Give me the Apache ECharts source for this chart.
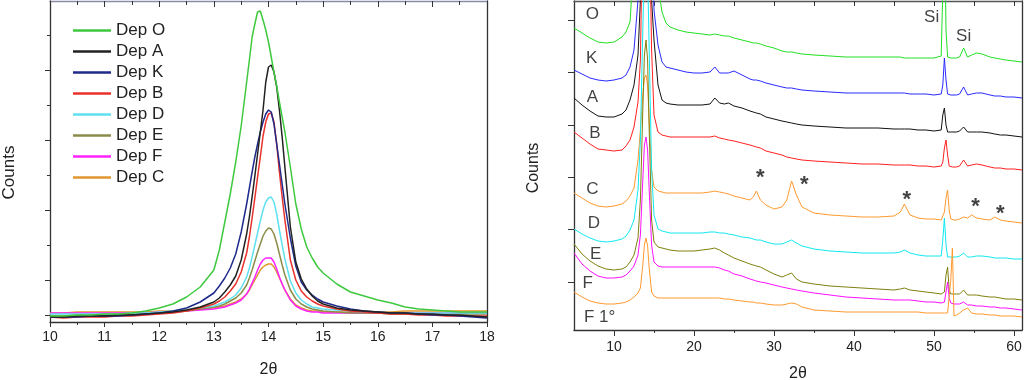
<!DOCTYPE html>
<html><head><meta charset="utf-8">
<script src="https://cdn.jsdelivr.net/npm/echarts@6/dist/echarts.min.js"></script>
<style>html,body{margin:0;padding:0;background:#fff}#c{width:1024px;height:380px}</style>
</head><body><div id="c"></div>
<script>
// ---------- LEFT PANEL DATA (2θ vs counts, zoom on 14° peak) ----------
const leftX = [10,10.25,10.5,10.75,11,11.25,11.5,11.75,12,12.25,12.5,12.75,13,13.1,13.2,13.3,13.4,13.5,13.6,13.65,13.7,13.75,13.8,13.85,13.9,13.95,14,14.05,14.1,14.15,14.2,14.25,14.3,14.4,14.5,14.6,14.7,14.8,14.9,15,15.25,15.5,15.75,16,16.25,16.5,16.75,17,17.25,17.5,17.75,18];
const depO = [6,6,7,7,8,8,9,11,14,18,25,35, 52,72,100,128,160,196,240, 262,285,298,310,311,302,292,280,265,250,236,220,205,190, 155,118,93,75,64,55,49, 38,30,26,22,19,15,13,12,11,10,10,10];
const depA = [5,5,6,6,6,7,7,8,9,10,12,15, 20,24,30,37,46,62,88, 105,125,146,168,190,212,240,255,257,250,235,212,185,155, 95,60,43,33,26,21,18, 14,12,11,10,9,9,8,8,7,7,6,5];
const depK = [5,5,5,6,6,6,7,8,9,11,14,20, 29,36,44,54,68,90,118, 134,150,165,178,190,200,208,212,210,198,178,158,138,118, 84,56,40,32,27,23,20, 16,13,11,10,9,9,8,7,7,6,5,4];
const depB = [5,4,5,5,5,6,6,7,8,9,11,14, 18,21,25,31,38,50,69, 85,104,124,145,165,186,200,208,209,200,178,150,125,102, 62,42,31,25,21,18,16, 13,11,10,9,8,8,7,7,6,6,6,6];
const depD = [8,8,8,8,8,8,9,9,10,11,12,14, 16,18,20,23,27,34,45, 54,65,77,89,101,112,120,124,125,120,108,92,77,63, 41,29,22,18,15,14,13, 12,11,10,10,9,9,9,9,9,9,9,9];
const depE = [6,6,7,7,7,7,8,8,9,10,11,13, 15,16,18,21,24,29,37, 44,52,61,70,78,86,91,94,93,88,79,68,57,47, 32,23,18,15,13,12,11, 10,9,9,9,8,8,8,8,8,8,8,8];
const depF = [9,9,9,9,9,9,9,9,10,10,11,12, 13,14,15,17,19,22,28, 33,39,45,52,58,62,64,64,64,60,53,45,38,32, 22,16,13,11,10,10,9, 9,9,9,9,9,9,9,9,9,9,9,9];
const depC = [9,9,10,10,10,10,10,10,11,11,12,13, 14,15,16,18,20,23,28, 32,37,42,47,52,55,57,58,58,55,50,44,38,32, 23,17,14,12,11,11,10, 10,10,10,10,10,11,11,11,11,11,11,11];
const leftNames = ['Dep O','Dep A','Dep K','Dep B','Dep D','Dep E','Dep F','Dep C'];
const leftYMajor = [7,42,112,182,252];
const leftYMinor = [77,147,217,287];

// ---------- RIGHT PANEL DATA (stacked patterns, offset counts) ----------
const rx = [5,6,7,8,9,10,11,11.5, 12,12.5,13,13.3,13.6,13.8,14,14.2,14.4,14.7, 15,15.5,16,16.5,17,18,19,20, 21,22,22.6,23.2,23.8,24.3,25,26, 27,27.4,27.8,28.3,29,30,31, 31.6,32.2,32.8,33.5,35,37, 39,41,43,45,45.8,46.3,47,48,49, 50,50.9,51.1,51.3,51.5,51.7,51.9,52.1, 52.3,52.5,52.8,53.2,53.7,54.2,54.7,55.3, 56,57,57.6,58.3,59,60,61];
const rO = [302,297,292,288,287,288,293,298, 308,370,430,530,700,900,1000,900,700,520, 420,345,318,307,303,300,298,297, 296,295,296,295,294,294,292,290, 288,287,287,286,284,282,279, 278,278,277,276,275,274, 273,273,273,273,273,272,272,272,272, 272,274,340,420,300,273,272,272, 272,272,272,273,282,273,275,277, 276,273,272,271,270,269,268];
const rK = [260,256,252,250,249,250,252,255, 263,280,330,400,600,800,900,800,600,400, 320,285,268,263,262,260,258,257, 257,258,263,257,257,257,259,255, 251,250,250,249,247,245,243, 242,242,241,240,239,238, 237,237,237,237,237,237,236,236,236, 235,236,245,272,250,236,235,235, 235,235,235,236,243,235,236,237, 237,235,234,234,233,233,232];
const rA = [232,225,219,214,213,213,216,220, 230,245,275,330,500,700,800,700,500,330, 290,245,230,227,226,225,225,225, 225,226,232,227,226,227,224,222, 219,218,217,216,213,211,209, 208,207,206,205,204,203, 202,202,202,201,201,201,201,200,200, 199,200,215,222,205,198,198,198, 198,198,198,199,203,198,198,198, 198,197,196,195,195,194,193];
const rB = [198,192,186,181,180,179,180,184, 190,203,228,270,420,600,700,600,420,280, 215,198,195,194,193,193,193,193, 193,193,194,192,191,190,189,187, 185,184,183,182,179,177,175, 173,172,171,170,169,168, 167,166,166,165,165,165,165,164,164, 163,164,168,182,190,175,164,163, 163,163,163,164,170,164,165,166, 165,163,162,162,161,161,160];
const rC = [137,132,127,124,123,124,126,129, 134,142,170,200,235,252,255,245,210,160, 143,139,138,137,137,137,137,137, 137,138,139,138,137,136,134,132, 130,133,139,130,125,121,123, 130,149,135,123,117,115, 114,113,113,114,118,126,115,112,111, 111,110,112,118,132,140,120,111, 110,110,110,111,113,112,115,112, 111,110,113,110,109,108,107];
const rD = [101,96,92,89,88,89,91,94, 100,110,140,190,300,370,390,360,280,160, 115,101,99,98,97,97,97,97, 97,98,98,97,97,96,95,93, 92,91,90,90,88,86,86, 88,90,87,84,81,79, 78,77,77,77,78,80,77,75,74, 74,74,90,112,85,73,73,73, 73,73,73,74,77,73,73,74, 74,73,72,72,72,71,71];
const rE = [86,76,69,64,61,60,61,63, 68,75,92,130,220,275,290,270,200,110, 88,83,82,81,80,79,79,79, 80,81,82,80,77,75,72,69, 66,65,64,63,60,56,53, 55,57,51,48,46,44, 43,42,41,40,41,42,40,39,38, 37,36,36,38,55,63,40,36, 36,36,36,36,40,35,35,35, 34,33,33,32,31,31,30];
const rF = [77,66,59,54,52,52,53,55, 59,64,75,95,150,185,193,180,140,85, 68,64,63,63,63,63,63,63, 63,63,63,62,60,59,56,54, 51,50,49,48,47,45,43, 42,41,40,39,37,35, 33,32,31,30,30,30,30,29,28, 28,27,27,28,38,48,32,27, 27,26,26,26,28,25,25,24, 24,23,23,22,22,21,20];
const rF1 = [38,33,29,27,26,26,27,28, 30,33,37,42,65,85,92,84,62,38, 34,32,32,32,32,32,32,32, 32,32,32,32,31,31,30,29, 28,28,27,27,26,25,25, 26,27,26,23,20,19, 18,18,18,18,18,18,18,18,17, 17,17,17,17,17,17,18,50, 82,14,15,17,20,22,17,16, 16,15,15,14,14,14,13];
const rightNames = ['O','K','A','B','C','D','E','F','F 1°'];
const rightXMajor = [10,20,30,40,50,60];
const rightXMinor = [15,25,35,45,55];
const rightXAll = [10,15,20,25,30,35,40,45,50,55,60];
const rightYTicks = [48,100.4,152.8,205.2,257.6,310];
// annotations (text, 2θ, offset counts)
const annoText = ['O','K','A','B','C','D','E','F','F 1°','Si','Si','*','*','*','*','*'];
const annoX = [7.3,7.2,7.3,7.6,7.3,7.5,7.7,6.7,8.2,49.7,53.7,28.3,33.8,46.6,55.2,58.3];
const annoY = [316,272,233,197,141,107,76,47,13,313,294,152,145,130,123,116];

// ---------- BUILD ----------
const FONT = '"Liberation Sans", Arial, sans-serif';
const AX = '#333';
const pairs = (xs, ys) => xs.map((x, i) => [x, ys[i]]);
const leftData = [depO, depA, depK, depB, depD, depE, depF, depC];
const leftColors = ['#3fc93f','#222222','#1f2a8a','#e8312a','#5fe0ee','#8c8c4a','#ff22ff','#e0962e'];
const rightData = [rO, rK, rA, rB, rC, rD, rE, rF, rF1];
const rightColors = ['#22e022','#2a2aff','#111111','#ff2020','#ff9a30','#10e8f0','#808010','#ff10ff','#ff9a30'];

const series = [];
for (let i = leftData.length - 1; i >= 0; i--) {
  series.push({
    name: leftNames[i], type: 'line', xAxisIndex: 0, yAxisIndex: 0,
    data: pairs(leftX, leftData[i]), symbol: 'none', showSymbol: false,
    lineStyle: { color: leftColors[i], width: 1.5 }, itemStyle: { color: leftColors[i] },
    z: 10 + (leftData.length - i)
  });
}
rightData.forEach((d, i) => {
  series.push({
    name: rightNames[i], type: 'line', xAxisIndex: 2, yAxisIndex: 3,
    data: pairs(rx, d), symbol: 'none', showSymbol: false,
    lineStyle: { color: rightColors[i], width: 1 }, itemStyle: { color: rightColors[i] }
  });
});
series.push({
  name: 'annotations', type: 'scatter', xAxisIndex: 2, yAxisIndex: 3, symbolSize: 2,
  itemStyle: { color: 'rgba(0,0,0,0)' }, silent: true, z: 20,
  label: { show: true, position: 'inside', fontFamily: FONT },
  data: annoText.map((t, i) => ({
    value: [annoX[i], annoY[i]], name: t,
    label: t === '*'
      ? { show: true, position: 'inside', formatter: t, fontSize: 22, fontWeight: 'bold', color: '#111', fontFamily: FONT }
      : { show: true, position: 'inside', formatter: t, fontSize: 17, color: '#111', fontFamily: FONT }
  }))
});

const tickStyle = { color: AX, width: 1 };
const option = {
  animation: false,
  backgroundColor: '#fff',
  textStyle: { fontFamily: FONT },
  grid: [
    { left: 50, right: 537, top: 1, bottom: 58, outerBoundsMode: 'none', containLabel: false },
    { left: 574, right: 2, top: 1, bottom: 50, outerBoundsMode: 'none', containLabel: false }
  ],
  legend: {
    data: leftNames, orient: 'vertical', left: 68, top: 17,
    icon: 'rect', itemWidth: 38, itemHeight: 2.5, itemGap: 4,
    textStyle: { fontSize: 17, color: '#222', fontFamily: FONT },
    selectedMode: false
  },
  xAxis: [
    { gridIndex: 0, type: 'value', min: 10, max: 18, interval: 1, position: 'bottom',
      axisLine: { show: true, onZero: false, lineStyle: { color: AX, width: 1.3 } },
      axisTick: { show: true, inside: false, length: 5, lineStyle: tickStyle },
      minorTick: { show: true, splitNumber: 2, length: 3, lineStyle: tickStyle },
      axisLabel: { fontSize: 14, color: '#222', margin: 8, fontFamily: FONT },
      splitLine: { show: false }, minorSplitLine: { show: false },
      name: '2θ', nameLocation: 'middle', nameGap: 40,
      nameTextStyle: { fontSize: 16, color: '#222', fontFamily: FONT } },
    { gridIndex: 0, type: 'value', min: 10, max: 18, interval: 1, position: 'top',
      axisLine: { show: true, onZero: false, lineStyle: { color: '#8a8aa8', width: 1.3 } },
      axisTick: { show: true, inside: true, length: 6, lineStyle: tickStyle },
      minorTick: { show: true, splitNumber: 2, length: 4, lineStyle: tickStyle },
      axisLabel: { show: false }, splitLine: { show: false } },
    { gridIndex: 1, type: 'value', min: 5, max: 61, position: 'bottom',
      axisLine: { show: true, onZero: false, lineStyle: { color: AX, width: 1.3 } },
      axisTick: { show: true, inside: false, length: 6, customValues: rightXMajor, lineStyle: tickStyle },
      axisLabel: { customValues: rightXMajor, fontSize: 14, color: '#222', margin: 10, fontFamily: FONT },
      splitLine: { show: false },
      name: '2θ', nameLocation: 'middle', nameGap: 36,
      nameTextStyle: { fontSize: 16, color: '#222', fontFamily: FONT } },
    { gridIndex: 1, type: 'value', min: 5, max: 61, position: 'bottom',
      axisLine: { show: false, onZero: false },
      axisTick: { show: true, inside: false, length: 3, customValues: rightXMinor, lineStyle: tickStyle },
      axisLabel: { show: false }, splitLine: { show: false } },
    { gridIndex: 1, type: 'value', min: 5, max: 61, position: 'top',
      axisLine: { show: true, onZero: false, lineStyle: { color: '#555', width: 1.3 } },
      axisTick: { show: true, inside: true, length: 5, customValues: rightXAll, lineStyle: tickStyle },
      axisLabel: { show: false }, splitLine: { show: false } }
  ],
  yAxis: [
    { gridIndex: 0, type: 'value', min: 0, max: 321, position: 'left',
      axisLine: { show: true, onZero: false, lineStyle: { color: AX, width: 1.3 } },
      axisTick: { show: true, inside: false, length: 5, customValues: leftYMajor, lineStyle: tickStyle },
      axisLabel: { show: false }, splitLine: { show: false },
      name: 'Counts', nameLocation: 'middle', nameGap: 32,
      nameTextStyle: { fontSize: 17, color: '#222', fontFamily: FONT, padding: [0, 22, 0, 0] } },
    { gridIndex: 0, type: 'value', min: 0, max: 321, position: 'left',
      axisLine: { show: false, onZero: false },
      axisTick: { show: true, inside: false, length: 3, customValues: leftYMinor, lineStyle: tickStyle },
      axisLabel: { show: false }, splitLine: { show: false } },
    { gridIndex: 0, type: 'value', min: 0, max: 321, position: 'right',
      axisLine: { show: true, onZero: false, lineStyle: { color: AX, width: 1.3 } },
      axisTick: { show: false }, axisLabel: { show: false }, splitLine: { show: false } },
    { gridIndex: 1, type: 'value', min: 0, max: 329, position: 'left',
      axisLine: { show: true, onZero: false, lineStyle: { color: AX, width: 1.3 } },
      axisTick: { show: true, inside: false, length: 6, customValues: rightYTicks, lineStyle: tickStyle },
      axisLabel: { show: false }, splitLine: { show: false },
      name: 'Counts', nameLocation: 'middle', nameGap: 32,
      nameTextStyle: { fontSize: 16, color: '#222', fontFamily: FONT, padding: [0, 5, 0, 0] } },
    { gridIndex: 1, type: 'value', min: 0, max: 329, position: 'right',
      axisLine: { show: true, onZero: false, lineStyle: { color: AX, width: 1.3 } },
      axisTick: { show: false }, axisLabel: { show: false }, splitLine: { show: false } }
  ],
  series: series
};
const chart = echarts.init(document.getElementById('c'), null, { renderer: 'canvas' });
chart.setOption(option);
</script>
</body></html>
